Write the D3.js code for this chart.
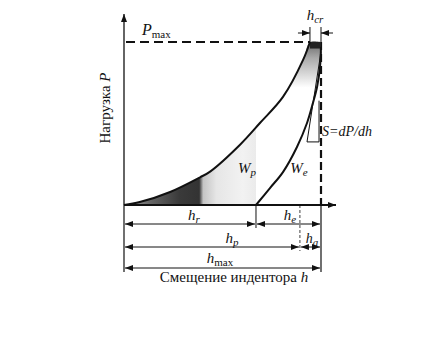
<!DOCTYPE html>
<html>
<head>
<meta charset="utf-8">
<script src="https://cdn.jsdelivr.net/npm/d3@7"></script>
<style>
  body { margin: 0; background: #fff; }
  svg text { font-family: "Liberation Serif", "Times New Roman", serif; fill: #111; }
</style>
</head>
<body>
<div id="chart"></div>
<script>
// loading branch (h, P), normalised to h_max = 1, P_max = 1
var loadH = [0, 0.08, 0.234, 0.386, 0.437, 0.589, 0.69, 0.807, 0.909, 0.944];
var loadP = [0, 0.018, 0.08, 0.17, 0.205, 0.37, 0.503, 0.663, 0.89, 1];
// unloading branch
var unloadH = [0.67, 0.741, 0.807, 0.878, 0.929, 0.959, 0.98, 0.995, 1];
var unloadP = [0, 0.104, 0.202, 0.356, 0.503, 0.626, 0.724, 0.847, 0.97];
// stiffness tangent S = dP/dh
var tangentH = [1, 0.929, 0.99];
var tangentP = [0.94, 0.387, 0.64];
// characteristic depths
var hr = 0.67, hp = 0.893, hcr0 = 0.944, hmax = 1;

var width = 438, height = 341;
var svg = d3.select("#chart").append("svg")
    .attr("width", width)
    .attr("height", height)
    .attr("font-family", "'Liberation Serif', 'Times New Roman', serif");

var x = d3.scaleLinear().domain([0, 1]).range([124, 321]);
var y = d3.scaleLinear().domain([0, 1]).range([205, 42]);

var defs = svg.append("defs");
defs.append("marker")
    .attr("id", "arr")
    .attr("viewBox", "0 0 8 6")
    .attr("refX", 8).attr("refY", 3)
    .attr("markerWidth", 8).attr("markerHeight", 6)
    .attr("markerUnits", "userSpaceOnUse")
    .attr("orient", "auto-start-reverse")
    .append("path").attr("d", "M0,0L8,3L0,6z").attr("fill", "#111");

var g1 = defs.append("linearGradient").attr("id", "shadeLoad")
    .attr("gradientUnits", "userSpaceOnUse")
    .attr("x1", x(0)).attr("x2", x(hr)).attr("y1", 0).attr("y2", 0);
[[0, "#aaa"], [0.2, "#666"], [0.42, "#3a3a3a"], [0.57, "#333"], [0.6, "#c4c4c4"],
 [0.7, "#e6e6e6"], [0.9, "#f2f2f2"], [1, "#ebebeb"]].forEach(function (s) {
    g1.append("stop").attr("offset", s[0]).attr("stop-color", s[1]);
});

var g2 = defs.append("linearGradient").attr("id", "shadeTop")
    .attr("gradientUnits", "userSpaceOnUse")
    .attr("x1", 0).attr("x2", 0).attr("y1", y(1)).attr("y2", y(0.72));
g2.append("stop").attr("offset", 0).attr("stop-color", "#666");
g2.append("stop").attr("offset", 0.35).attr("stop-color", "#aaa");
g2.append("stop").attr("offset", 1).attr("stop-color", "#fff");

var load = loadH.map(function (h, i) { return [h, loadP[i]]; });
var unload = unloadH.map(function (h, i) { return [h, unloadP[i]]; });

var line = d3.line()
    .x(function (d) { return x(d[0]); })
    .y(function (d) { return y(d[1]); })
    .curve(d3.curveCatmullRom);

// shading under loading curve
defs.append("clipPath").attr("id", "clipHr")
    .append("rect").attr("x", x(0)).attr("y", 0)
    .attr("width", x(hr) - x(0)).attr("height", y(0));
svg.append("path")
    .datum(load)
    .attr("clip-path", "url(#clipHr)")
    .attr("fill", "url(#shadeLoad)")
    .attr("d", d3.area()
        .x(function (d) { return x(d[0]); })
        .y0(y(0))
        .y1(function (d) { return y(d[1]); })
        .curve(d3.curveCatmullRom));

// shading between branches near P_max
var topLoad = load.filter(function (d) { return d[1] >= 0.5; });
var topUnload = unload.filter(function (d) { return d[1] >= 0.5; }).reverse();
svg.append("path")
    .attr("fill", "url(#shadeTop)")
    .attr("d", line(topLoad.concat([[hmax, 1]])) + "L" +
        line(topUnload).slice(1) + "Z");

// axes
svg.append("line")
    .attr("x1", x(0)).attr("y1", y(0)).attr("x2", x(0)).attr("y2", 14)
    .attr("stroke", "#111").attr("stroke-width", 1.3)
    .attr("marker-end", "url(#arr)");
svg.append("line")
    .attr("x1", x(0)).attr("y1", y(0)).attr("x2", 336).attr("y2", y(0))
    .attr("stroke", "#111").attr("stroke-width", 2)
    .attr("marker-end", "url(#arr)");

// dashed guides
svg.append("line")
    .attr("x1", x(0) + 2).attr("y1", y(1)).attr("x2", x(hcr0)).attr("y2", y(1))
    .attr("stroke", "#111").attr("stroke-width", 2)
    .attr("stroke-dasharray", "9,5");
svg.append("line")
    .attr("x1", x(hmax)).attr("y1", y(1)).attr("x2", x(hmax)).attr("y2", y(0))
    .attr("stroke", "#111").attr("stroke-width", 2.2)
    .attr("stroke-dasharray", "8,4");

// hold segment box
svg.append("rect")
    .attr("x", x(hcr0)).attr("y", y(1))
    .attr("width", x(hmax) - x(hcr0)).attr("height", y(0.96) - y(1))
    .attr("fill", "#222");

// curves
svg.append("path").datum(load).attr("d", line)
    .attr("fill", "none").attr("stroke", "#111").attr("stroke-width", 2);
svg.append("path").datum(unload).attr("d", line)
    .attr("fill", "none").attr("stroke", "#111").attr("stroke-width", 2);

// tangent triangle
svg.append("path")
    .attr("d", "M" + x(tangentH[0]) + "," + y(tangentP[0]) +
        "L" + x(tangentH[1]) + "," + y(tangentP[1]) +
        "L" + x(tangentH[2]) + "," + y(tangentP[1]) +
        "L" + x(tangentH[2]) + "," + y(tangentP[2]))
    .attr("fill", "none").attr("stroke", "#111").attr("stroke-width", 1);

// h_cr marker
[hcr0, hmax].forEach(function (h) {
    svg.append("line")
        .attr("x1", x(h)).attr("x2", x(h)).attr("y1", 27).attr("y2", y(1))
        .attr("stroke", "#111").attr("stroke-width", 1);
});
svg.append("line")
    .attr("x1", x(hcr0) - 12).attr("x2", x(hcr0)).attr("y1", 33).attr("y2", 33)
    .attr("stroke", "#111").attr("marker-end", "url(#arr)");
svg.append("line")
    .attr("x1", x(hmax) + 12).attr("x2", x(hmax)).attr("y1", 33).attr("y2", 33)
    .attr("stroke", "#111").attr("marker-end", "url(#arr)");

// dimension lines
var rows = [
    { a: 0, b: hr, y: 224 }, { a: hr, b: hmax, y: 224 },
    { a: 0, b: hp, y: 247 }, { a: hp, b: hmax, y: 247 },
    { a: 0, b: hmax, y: 268 }
];
rows.forEach(function (r) {
    svg.append("line")
        .attr("x1", x(r.a) + 1).attr("x2", x(r.b) - 1)
        .attr("y1", r.y).attr("y2", r.y)
        .attr("stroke", "#111").attr("stroke-width", 1)
        .attr("marker-start", "url(#arr)").attr("marker-end", "url(#arr)");
});
svg.append("line").attr("x1", x(0)).attr("x2", x(0)).attr("y1", y(0)).attr("y2", 272)
    .attr("stroke", "#111").attr("stroke-width", 1.2);
svg.append("line").attr("x1", x(hmax)).attr("x2", x(hmax)).attr("y1", y(0)).attr("y2", 272)
    .attr("stroke", "#111").attr("stroke-width", 1.2);
svg.append("line").attr("x1", x(hr)).attr("x2", x(hr)).attr("y1", y(0)).attr("y2", 228)
    .attr("stroke", "#111").attr("stroke-width", 1);
svg.append("line").attr("x1", x(hp)).attr("x2", x(hp)).attr("y1", y(0)).attr("y2", 251)
    .attr("stroke", "#111").attr("stroke-width", 0.8).attr("stroke-dasharray", "3,2");

// labels
function sym(px, py, main, sub, size, anchor) {
    var t = svg.append("text").attr("x", px).attr("y", py)
        .attr("text-anchor", anchor || "middle")
        .style("font-size", (size || 15) + "px");
    t.append("tspan").style("font-style", "italic").text(main);
    if (sub) {
        var isRoman = sub === "max";
        t.append("tspan").attr("dy", 3)
            .style("font-size", "11px")
            .style("font-style", isRoman ? "normal" : "italic")
            .text(sub);
    }
    return t;
}
sym(194, 220, "h", "r");
sym(290, 220, "h", "e");
sym(232, 243, "h", "p");
sym(312, 243, "h", "a", 14);
sym(220, 263, "h", "max");
sym(315, 20, "h", "cr");
sym(142, 35, "P", "max", 16, "start");
sym(247, 173, "W", "p");
sym(299, 173, "W", "e");

svg.append("text")
    .attr("x", 322).attr("y", 136)
    .style("font-size", "14px").style("font-style", "italic")
    .text("S=dP/dh");

svg.append("text")
    .attr("x", 234).attr("y", 282)
    .attr("text-anchor", "middle")
    .style("font-size", "15px")
    .html("Смещение индентора <tspan font-style='italic'>h</tspan>");

svg.append("text")
    .attr("transform", "translate(110,108) rotate(-90)")
    .attr("text-anchor", "middle")
    .style("font-size", "15px")
    .html("Нагрузка <tspan font-style='italic'>P</tspan>");
</script>
</body>
</html>
